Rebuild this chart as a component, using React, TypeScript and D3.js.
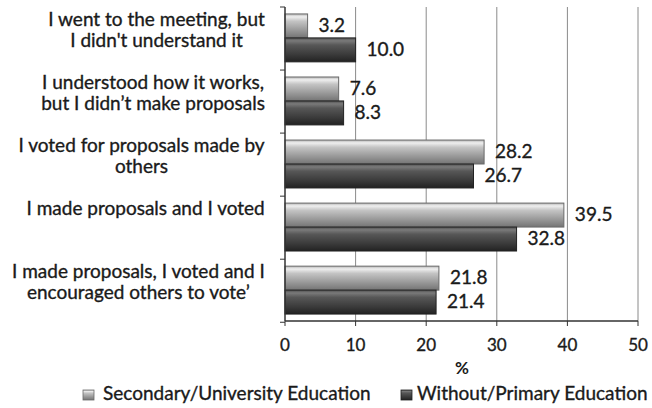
import React from "react";
import * as d3 from "d3";

const categories: string[][] = [
  ["I went to the meeting, but", "I didn't understand it"],
  ["I understood how it works,", "but I didn\u2019t make proposals"],
  ["I voted for proposals made by", "others"],
  ["I made proposals and I voted"],
  ["I made proposals, I voted and I", "encouraged others to vote\u2019"],
];
const seriesNames = ["Secondary/University Education", "Without/Primary Education"];
const secondary = [3.2, 7.6, 28.2, 39.5, 21.8];
const primary = [10.0, 8.3, 26.7, 32.8, 21.4];
const xTicks = [0, 10, 20, 30, 40, 50];
const xLabel = "%";

const W = 652;
const H = 408;
const FONT = "Lato, 'Open Sans', sans-serif";
const LABEL_SIZE = 19;
const TXT = "#1a1a1a";
const TS = 0.35;

function measure(text: string, size: number): number {
  if (typeof document === "undefined") return text.length * size * 0.5;
  const c = document.createElement("canvas").getContext("2d");
  if (!c) return text.length * size * 0.5;
  c.font = `${size}px Lato`;
  return c.measureText(text).width;
}

export default function App() {
  const left = 285;
  const right = 638;
  const top = 7;
  const bottom = 321;
  const x = d3.scaleLinear().domain([0, 50]).range([left, right]);
  const y = d3
    .scaleBand<number>()
    .domain(d3.range(categories.length))
    .range([top, bottom])
    .paddingInner(0.24)
    .paddingOuter(0.11);
  const inner = d3.scaleBand<number>().domain([0, 1]).range([0, y.bandwidth()]);
  const step = y.step();
  const series = [secondary, primary];
  const fills = ["url(#gLight)", "url(#gDark)"];
  const strokes = ["#6a6a6a", "#222"];
  const labelRight = 265;

  return (
    <svg width={W} height={H} style={{ position: "absolute", left: 0, top: 0, background: "#fff" }}>
      <defs>
        <linearGradient id="gLight" x1="0" y1="0" x2="0" y2="1">
          <stop offset="0" stopColor="#b5b5b5" />
          <stop offset="0.12" stopColor="#efefef" />
          <stop offset="0.3" stopColor="#c4c4c4" />
          <stop offset="0.7" stopColor="#969696" />
          <stop offset="1" stopColor="#747474" />
        </linearGradient>
        <linearGradient id="gDark" x1="0" y1="0" x2="0" y2="1">
          <stop offset="0" stopColor="#505050" />
          <stop offset="0.12" stopColor="#7a7a7a" />
          <stop offset="0.3" stopColor="#575757" />
          <stop offset="0.7" stopColor="#3a3a3a" />
          <stop offset="1" stopColor="#222" />
        </linearGradient>
      </defs>
      {/* gridlines */}
      {xTicks.slice(1).map((t) => (
        <line key={"g" + t} x1={x(t)} x2={x(t)} y1={top} y2={bottom} stroke="#8a8a8a" strokeWidth={1} />
      ))}
      {/* bars */}
      {categories.map((_, i) =>
        series.map((s, k) => {
          const by = (y(i) as number) + (inner(k) as number);
          const bh = inner.bandwidth();
          return (
            <g key={`b${i}-${k}`}>
              <rect
                x={x(0)}
                y={by}
                width={x(s[i]) - x(0)}
                height={bh}
                fill={fills[k]}
                stroke={strokes[k]}
                strokeWidth={1}
              />
              <text
                x={x(s[i]) + 11}
                y={by + bh / 2 + 1}
                dominantBaseline="middle"
                fontFamily={FONT}
                fontSize={19}
                fill={TXT}
                stroke={TXT}
                strokeWidth={TS}
              >
                {s[i].toFixed(1)}
              </text>
            </g>
          );
        })
      )}
      {/* left axis */}
      <line x1={left} x2={left} y1={top} y2={bottom} stroke="#333" strokeWidth={1.5} />
      {d3.range(categories.length + 1).map((i) => (
        <line key={"yt" + i} x1={left - 5} x2={left} y1={top + i * step} y2={top + i * step} stroke="#333" strokeWidth={1} />
      ))}
      {/* bottom axis */}
      <line x1={left} x2={right} y1={bottom} y2={bottom} stroke="#333" strokeWidth={1.5} />
      {xTicks.map((t) => (
        <g key={"xt" + t}>
          <line x1={x(t)} x2={x(t)} y1={bottom} y2={bottom + 5} stroke="#333" strokeWidth={1} />
          <text x={x(t)} y={347} textAnchor="middle" dominantBaseline="middle" fontFamily={FONT} fontSize={17} fill={TXT} stroke={TXT} strokeWidth={TS}>
            {t}
          </text>
        </g>
      ))}
      <text x={462} y={370} textAnchor="middle" dominantBaseline="middle" fontFamily={FONT} fontSize={17} fontWeight="bold" fill={TXT}>
        {xLabel}
      </text>
      {/* category labels */}
      {categories.map((lines, i) => {
        const cy = (y(i) as number) + y.bandwidth() / 2 - 6.5;
        const maxW = Math.max(...lines.map((ln) => measure(ln, LABEL_SIZE)));
        const cx = labelRight - maxW / 2;
        return (
          <text key={"c" + i} textAnchor="middle" fontFamily={FONT} fontSize={LABEL_SIZE} fill={TXT} stroke={TXT} strokeWidth={TS}>
            {lines.map((ln, j) => (
              <tspan key={j} x={cx} y={cy + (j - 0.5) * 21} dominantBaseline="middle">
                {ln}
              </tspan>
            ))}
          </text>
        );
      })}
      {/* legend */}
      {seriesNames.map((n, k) => {
        const lx = k === 0 ? 83 : 401;
        const tx = k === 0 ? 103 : 417;
        return (
          <g key={"l" + k}>
            <rect x={lx} y={390} width={11} height={10} fill={fills[k]} stroke={strokes[k]} strokeWidth={0.8} />
            <text x={tx} y={395} dominantBaseline="middle" fontFamily={FONT} fontSize={19} fill={TXT} stroke={TXT} strokeWidth={TS}>
              {n}
            </text>
          </g>
        );
      })}
    </svg>
  );
}
